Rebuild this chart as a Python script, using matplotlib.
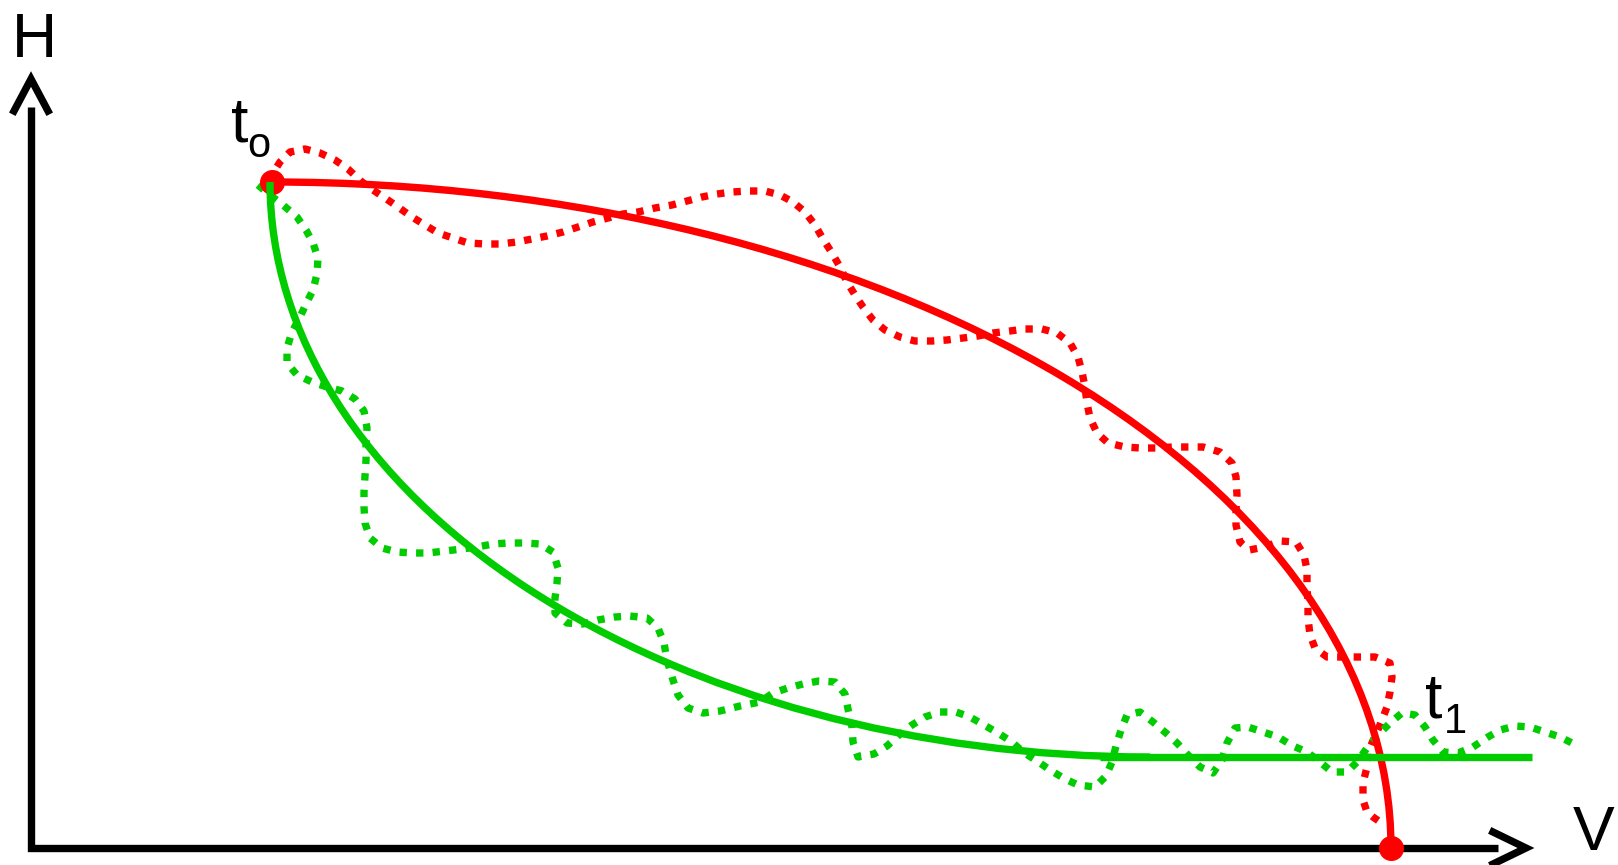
import matplotlib
matplotlib.use('Agg')
import matplotlib.pyplot as plt
from matplotlib.patches import Arc

RED = '#FF0000'
GREEN = '#00CC00'

# solid trajectories: quarter ellipses (center x, center y, half width, half height) in pixel units
red_arc = (272, 848, 1119, 666)
green_arc = (1150, 182, 880, 575)
green_flat_x = [1100, 1532]
green_flat_y = [757, 757]

# dotted (perturbed) trajectories
red_dot_x = [272, 273, 280, 290, 305, 320, 335, 348, 362, 373, 385, 398, 412, 425, 438, 453, 468, 485,
             500, 517, 532, 547, 563, 578, 593, 608, 623, 638, 655, 672, 687, 702, 717, 732, 748, 765,
             780, 793, 805, 815, 823, 832, 840, 847, 855, 863, 873, 885, 900, 915, 932, 947, 963, 978,
             993, 1010, 1025, 1042, 1057, 1070, 1078, 1082, 1085, 1087, 1090, 1097, 1108, 1125, 1140,
             1157, 1172, 1188, 1203, 1220, 1232, 1236, 1237, 1236, 1236, 1240, 1249, 1265, 1280, 1296,
             1304, 1307, 1307, 1308, 1308, 1310, 1315, 1327, 1343, 1360, 1375, 1390, 1392, 1390, 1387,
             1382, 1377, 1372, 1368, 1367, 1363, 1363, 1367, 1373, 1383]
red_dot_y = [182, 173, 162, 152, 149, 153, 160, 169, 182, 190, 198, 207, 217, 225, 233, 238, 243, 244,
             244, 242, 239, 236, 232, 227, 222, 218, 214, 212, 208, 205, 201, 197, 194, 192, 191, 191,
             195, 202, 212, 225, 239, 253, 267, 282, 295, 307, 320, 330, 337, 341, 341, 340, 338, 336,
             333, 331, 329, 329, 333, 343, 357, 372, 387, 403, 418, 433, 443, 447, 448,
             448, 447, 447, 447, 452, 463, 477, 495, 510, 525, 542, 550, 547, 541, 542,
             555, 570, 587, 602, 618, 635, 648, 657, 657, 657, 657, 663, 677, 692, 707,
             720, 732, 743, 753, 767, 783, 800, 812, 817, 824]

green_dot_x = [258, 270, 283, 297, 306, 313, 318, 317, 313, 306, 300, 292, 287, 287, 297, 312, 327, 342,
               355, 364, 367, 366, 366, 365, 364, 364, 365, 370, 382, 397, 413, 428, 445, 462, 477, 493,
               508, 525, 540, 553, 558, 557, 555, 555, 567, 583, 598, 615, 630, 647, 658, 664, 667, 672,
               678, 688, 703, 720, 740, 760, 773, 788, 803, 819, 835, 845, 848, 852, 853, 858, 874, 887,
               899, 912, 925, 940, 956, 970, 984, 998, 1012, 1023, 1037, 1050, 1065, 1078, 1095, 1106,
               1112, 1116, 1121, 1127, 1140, 1153, 1166, 1177, 1188, 1200, 1213, 1222, 1227, 1235, 1248,
               1263, 1278, 1293, 1307, 1320, 1332, 1347, 1357, 1367, 1378, 1390, 1402, 1415, 1425, 1433,
               1443, 1458, 1473, 1488, 1500, 1515, 1530, 1545, 1560, 1572]
green_dot_y = [185, 195, 205, 217, 230, 243, 258, 274, 290, 304, 317, 332, 348, 363, 375, 382, 387, 391,
               399, 411, 428, 445, 460, 476, 492, 507, 523, 538, 548, 552, 553, 553, 551, 549, 547, 544,
               543, 543, 544, 552, 568, 583, 598, 613, 623, 624, 620, 617, 616, 618, 628, 643, 660, 677,
               695, 708, 713, 711, 706, 702, 693, 688, 684, 681, 682, 694, 709, 727, 742, 757, 754, 746,
               735, 725, 717, 712, 712, 717, 725, 733, 742, 752, 761, 770, 779, 785, 787, 776,
               762, 746, 730, 715, 712, 722, 733, 743, 755, 767, 773, 760, 743, 728, 727,
               732, 737, 746, 752, 762, 772, 772, 762, 748, 735, 723, 713, 715, 727, 740,
               752, 753, 747, 737, 730, 726, 727, 732, 737, 743]

# start / end states
state_x = [272, 1391]
state_y = [182, 848]

fig = plt.figure(figsize=(16.18, 8.65), dpi=100)
ax = fig.add_axes([0, 0, 1, 1])
ax.set_xlim(0, 1618)
ax.set_ylim(865, 0)
ax.axis('off')

lw = 5.3
dots = (0, (1.0, 1.25))

# axes with open arrow heads
ax.plot([31, 31, 1498], [107, 848, 848], color='black', lw=lw, solid_joinstyle='miter', solid_capstyle='butt')
ax.plot([14, 31, 48], [111, 79, 111], color='black', lw=lw, solid_joinstyle='miter')
ax.plot([1493, 1526, 1493], [832, 848, 864], color='black', lw=lw, solid_joinstyle='miter')

# dotted trajectories
ax.plot(red_dot_x, red_dot_y, color=RED, lw=lw, linestyle=dots, zorder=2)
ax.plot(green_dot_x, green_dot_y, color=GREEN, lw=lw, linestyle=dots, zorder=2)

# solid trajectories
cx, cy, a, b = red_arc
ax.add_patch(Arc((cx, cy), 2 * a, 2 * b, theta1=270, theta2=360, color=RED, lw=lw, zorder=3))
ax.plot(state_x, state_y, 'o', color=RED, markersize=17, zorder=4)
cx, cy, a, b = green_arc
ax.add_patch(Arc((cx, cy), 2 * a, 2 * b, theta1=90, theta2=180, color=GREEN, lw=lw, zorder=5))
ax.plot(green_flat_x, green_flat_y, color=GREEN, lw=lw, solid_capstyle='butt', zorder=3)

font = ['Liberation Sans', 'DejaVu Sans']
ax.text(12, 57, 'H', fontsize=45, family=font, ha='left', va='baseline')
ax.text(1614, 863, 'V', fontsize=45, family=font, ha='right', va='bottom')
ax.text(231, 142, 't', fontsize=45, family=font, ha='left', va='baseline')
ax.text(247, 157, 'o', fontsize=30, family=font, ha='left', va='baseline')
ax.text(1425, 717, 't', fontsize=45, family=font, ha='left', va='baseline')
ax.text(1444, 733, '1', fontsize=30, family=font, ha='left', va='baseline')

plt.savefig('out.png', dpi=100, facecolor='white')
plt.close()
